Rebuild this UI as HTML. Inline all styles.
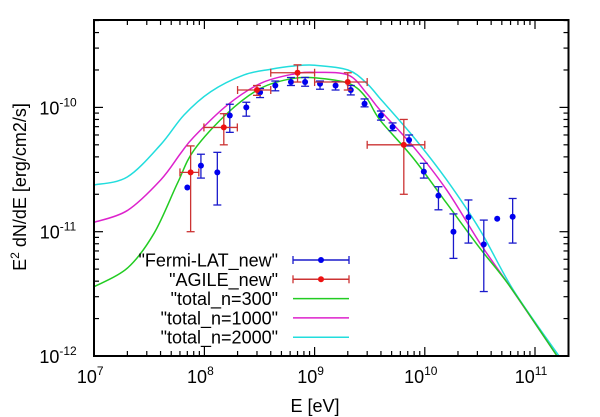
<!DOCTYPE html>
<html><head><meta charset="utf-8"><style>
html,body{margin:0;padding:0;background:#fff}
svg{display:block;font-family:"Liberation Sans",sans-serif}
</style></head><body>
<svg id="chart" width="600" height="417" viewBox="0 0 600 417" xmlns="http://www.w3.org/2000/svg">
<rect width="600" height="417" fill="#fff"/>
<g id="curves"></g>
<g id="data"></g>
<g id="axes"></g>
<g id="legend"></g>
<text x="315" y="412" font-size="18" text-anchor="middle">E [eV]</text>
<text transform="translate(26,187) rotate(-90)" font-size="18" text-anchor="middle">E<tspan dy="-7" font-size="12">2</tspan><tspan dy="7"> dN/dE [erg/cm2/s]</tspan></text>
</svg>
<script>
// ---- data ----
const fermiE = [7.0e7,9.3e7,1.31e8,1.7e8,2.4e8,3.2e8,4.4e8,6.1e8,8.2e8,1.12e9,1.55e9,2.13e9,2.84e9,4.0e9,5.1e9,7.2e9,9.8e9,1.33e10,1.82e10,2.49e10,3.43e10,4.54e10,6.27e10];
const fermiY = [2.27e-11,3.4e-11,3.0e-11,8.6e-11,1.0e-10,1.32e-10,1.5e-10,1.6e-10,1.6e-10,1.55e-10,1.5e-10,1.38e-10,1.07e-10,8.6e-11,6.95e-11,5.47e-11,3.04e-11,1.95e-11,1.0e-11,1.31e-11,7.9e-12,1.27e-11,1.32e-11];
const fermiHi = [null,4.2e-11,4.35e-11,1.06e-10,1.1e-10,1.42e-10,1.63e-10,1.74e-10,1.74e-10,1.63e-10,1.61e-10,1.5e-10,1.17e-10,9.35e-11,7.5e-11,6.0e-11,3.55e-11,2.3e-11,1.39e-11,1.8e-11,1.24e-11,null,1.85e-11];
const fermiLo = [null,2.7e-11,1.64e-11,6.3e-11,8.5e-11,1.2e-10,1.36e-10,1.5e-10,1.48e-10,1.4e-10,1.38e-10,1.26e-10,1.01e-10,7.9e-11,6.5e-11,4.9e-11,2.7e-11,1.5e-11,6.1e-12,8.1e-12,3.3e-12,null,8.1e-12];
const agileE = [7.5e7,1.5e8,3.0e8,7.0e8,2.0e9,6.45e9];
const agileY = [3.0e-11,6.9e-11,1.38e-10,1.9e-10,1.6e-10,5.0e-11];
const agileYHi = [4.9e-11,8.9e-11,1.5e-10,2.2e-10,1.9e-10,8.0e-11];
const agileYLo = [1.0e-11,5.0e-11,1.25e-10,1.6e-10,1.38e-10,2.0e-11];
const agileELo = [6.0e7,9.9e7,2.0e8,4.0e8,1.0e9,3.0e9];
const agileEHi = [8.9e7,1.99e8,4.0e8,1.0e9,3.0e9,1.0e10];
// model curves: log10(E), log10(E^2 dN/dE)
const n300LogE = [7.0,7.30,7.543,7.755,7.906,8.208,8.511,8.813,9.05,9.32,9.473,9.593,9.896,10.199,10.501,10.774,11.2];
const n300LogY = [-11.442,-11.294,-11.013,-10.611,-10.343,-10.047,-9.846,-9.766,-9.766,-9.81,-9.927,-10.101,-10.409,-10.772,-11.134,-11.442,-12.0];
const n1000LogE = [7.0,7.30,7.603,7.785,7.906,8.208,8.511,8.813,9.004,9.303,9.473,9.593,9.896,10.199,10.501,10.774,11.2];
const n1000LogY = [-10.924,-10.83,-10.584,-10.369,-10.236,-9.981,-9.806,-9.731,-9.718,-9.739,-9.887,-10.021,-10.316,-10.665,-11.093,-11.442,-12.0];
const n2000LogE = [7.0,7.30,7.603,7.815,8.057,8.359,8.602,8.813,9.004,9.303,9.473,9.593,9.896,10.199,10.501,10.803,11.218];
const n2000LogY = [-10.624,-10.56,-10.30,-10.061,-9.874,-9.739,-9.693,-9.667,-9.661,-9.699,-9.806,-9.927,-10.236,-10.584,-10.986,-11.469,-12.0];
const xTickExp = [7,8,9,10,11];
const yTickExp = [-12,-11,-10];

// ---- scales ----
const L=94, R=568.5, T=20, B=356;
const X0=94.2, XD=110.2, Y0=356, YD=124.3;
const xs = e => X0 + (Math.log10(e)-7)*XD;
const xl = l => X0 + (l-7)*XD;
const ys = v => Y0 - (Math.log10(v)+12)*YD;
const yl = l => Y0 - (l+12)*YD;
const NS="http://www.w3.org/2000/svg";
function mk(tag,attrs,parent){const el=document.createElementNS(NS,tag);for(const k in attrs)el.setAttribute(k,attrs[k]);parent.appendChild(el);return el;}

const defs=mk('defs',{},document.getElementById('chart'));
const cp=mk('clipPath',{id:'clip'},defs);
mk('rect',{x:L,y:T,width:R-L,height:B-T},cp);

// Catmull-Rom smoothing
function smoothPath(px,py){let d=`M${px[0]},${py[0]}`;const k=1/6;for(let i=0;i<px.length-1;i++){const x0=px[Math.max(i-1,0)],y0=py[Math.max(i-1,0)],x1=px[i],y1=py[i],x2=px[i+1],y2=py[i+1],x3=px[Math.min(i+2,px.length-1)],y3=py[Math.min(i+2,px.length-1)];d+=` C${x1+(x2-x0)*k},${y1+(y2-y0)*k} ${x2-(x3-x1)*k},${y2-(y3-y1)*k} ${x2},${y2}`;}return d;}
const cg=document.getElementById('curves');cg.setAttribute('clip-path','url(#clip)');
const curveDefs=[[n2000LogE,n2000LogY,'#22dddd','curve-n2000'],[n1000LogE,n1000LogY,'#dd22cc','curve-n1000'],[n300LogE,n300LogY,'#22cc22','curve-n300']];
curveDefs.forEach(c=>{const p=mk('path',{d:smoothPath(c[0].map(xl),c[1].map(yl)),fill:'none',stroke:c[2],'stroke-width':1.5,'stroke-linejoin':'round'},cg);

});

// data
const dg=document.getElementById('data');dg.setAttribute('clip-path','url(#clip)');
const BLUE='#1a1acc';
fermiE.forEach((e,i)=>{const g=mk('g',{},dg);


const x=xs(e),y=ys(fermiY[i]);
if(fermiHi[i]!==null){const y1=ys(fermiHi[i]),y2=ys(fermiLo[i]);mk('line',{x1:x,x2:x,y1:y1,y2:y2,stroke:BLUE,'stroke-width':1.3},g);mk('line',{x1:x-4,x2:x+4,y1:y1,y2:y1,stroke:BLUE,'stroke-width':1.3},g);mk('line',{x1:x-4,x2:x+4,y1:y2,y2:y2,stroke:BLUE,'stroke-width':1.3},g);}
mk('circle',{cx:x,cy:y,r:3,fill:'#0000ee'},g);});
agileE.forEach((e,i)=>{const g=mk('g',{},dg);


const x=xs(e),y=ys(agileY[i]),y1=ys(agileYHi[i]),y2=ys(agileYLo[i]),xa=xs(agileELo[i]),xb=xs(agileEHi[i]);
const st={stroke:'#cc3333','stroke-width':1.3};
mk('line',Object.assign({x1:x,x2:x,y1:y1,y2:y2},st),g);mk('line',Object.assign({x1:x-4,x2:x+4,y1:y1,y2:y1},st),g);mk('line',Object.assign({x1:x-4,x2:x+4,y1:y2,y2:y2},st),g);
mk('line',Object.assign({x1:xa,x2:xb,y1:y,y2:y},st),g);mk('line',Object.assign({x1:xa,x2:xa,y1:y-4,y2:y+4},st),g);mk('line',Object.assign({x1:xb,x2:xb,y1:y-4,y2:y+4},st),g);
mk('circle',{cx:x,cy:y,r:3,fill:'#ee1111'},g);});

// axes
const ag=document.getElementById('axes');
const fr=mk('rect',{x:L,y:T,width:R-L,height:B-T,fill:'none',stroke:'#000','stroke-width':2},ag);


for(let d=7;d<=11;d++){for(let m=1;m<10;m++){const x=xl(d+Math.log10(m));if(x<L||x>R)continue;const len=m===1?9:5;
mk('line',{x1:x,x2:x,y1:B,y2:B-len,stroke:'#000','stroke-width':1.2},ag);mk('line',{x1:x,x2:x,y1:T,y2:T+len,stroke:'#000','stroke-width':1.2},ag);}}
for(let d=-13;d<=-9;d++){for(let m=1;m<10;m++){const y=yl(d+Math.log10(m));if(y<T||y>B)continue;const len=m===1?9:5;
mk('line',{x1:L,x2:L+len,y1:y,y2:y,stroke:'#000','stroke-width':1.2},ag);mk('line',{x1:R,x2:R-len,y1:y,y2:y,stroke:'#000','stroke-width':1.2},ag);}}
xTickExp.forEach(p=>{const t=mk('text',{x:xl(p)-4,y:383,'font-size':18,'text-anchor':'middle'},ag);t.textContent='10';


const s=mk('tspan',{dy:-8,'font-size':12},t);s.textContent=String(p);});
yTickExp.forEach(p=>{const t=mk('text',{x:58,y:yl(p)+7,'font-size':18,'text-anchor':'middle'},ag);t.textContent='10';


const s=mk('tspan',{dy:-8,'font-size':12},t);s.textContent=String(p);});

// legend
const lg=document.getElementById('legend');
const entries=[['"Fermi-LAT_new"','#1a1acc','#0000ee'],['"AGILE_new"','#cc3333','#ee1111'],['"total_n=300"','#22cc22',null],['"total_n=1000"','#dd22cc',null],['"total_n=2000"','#22dddd',null]];
entries.forEach((en,i)=>{const y=260+i*19.3;const g=mk('g',{},lg);


const t=mk('text',{x:278,y:y+6.5,'font-size':18,'text-anchor':'end'},g);t.textContent=en[0];
mk('line',{x1:293,x2:349,y1:y,y2:y,stroke:en[1],'stroke-width':1.5},g);
if(en[2]){mk('line',{x1:293,x2:293,y1:y-4,y2:y+4,stroke:en[1],'stroke-width':1.3},g);mk('line',{x1:349,x2:349,y1:y-4,y2:y+4,stroke:en[1],'stroke-width':1.3},g);mk('circle',{cx:321,cy:y,r:3,fill:en[2]},g);}});
</script>
</body></html>
